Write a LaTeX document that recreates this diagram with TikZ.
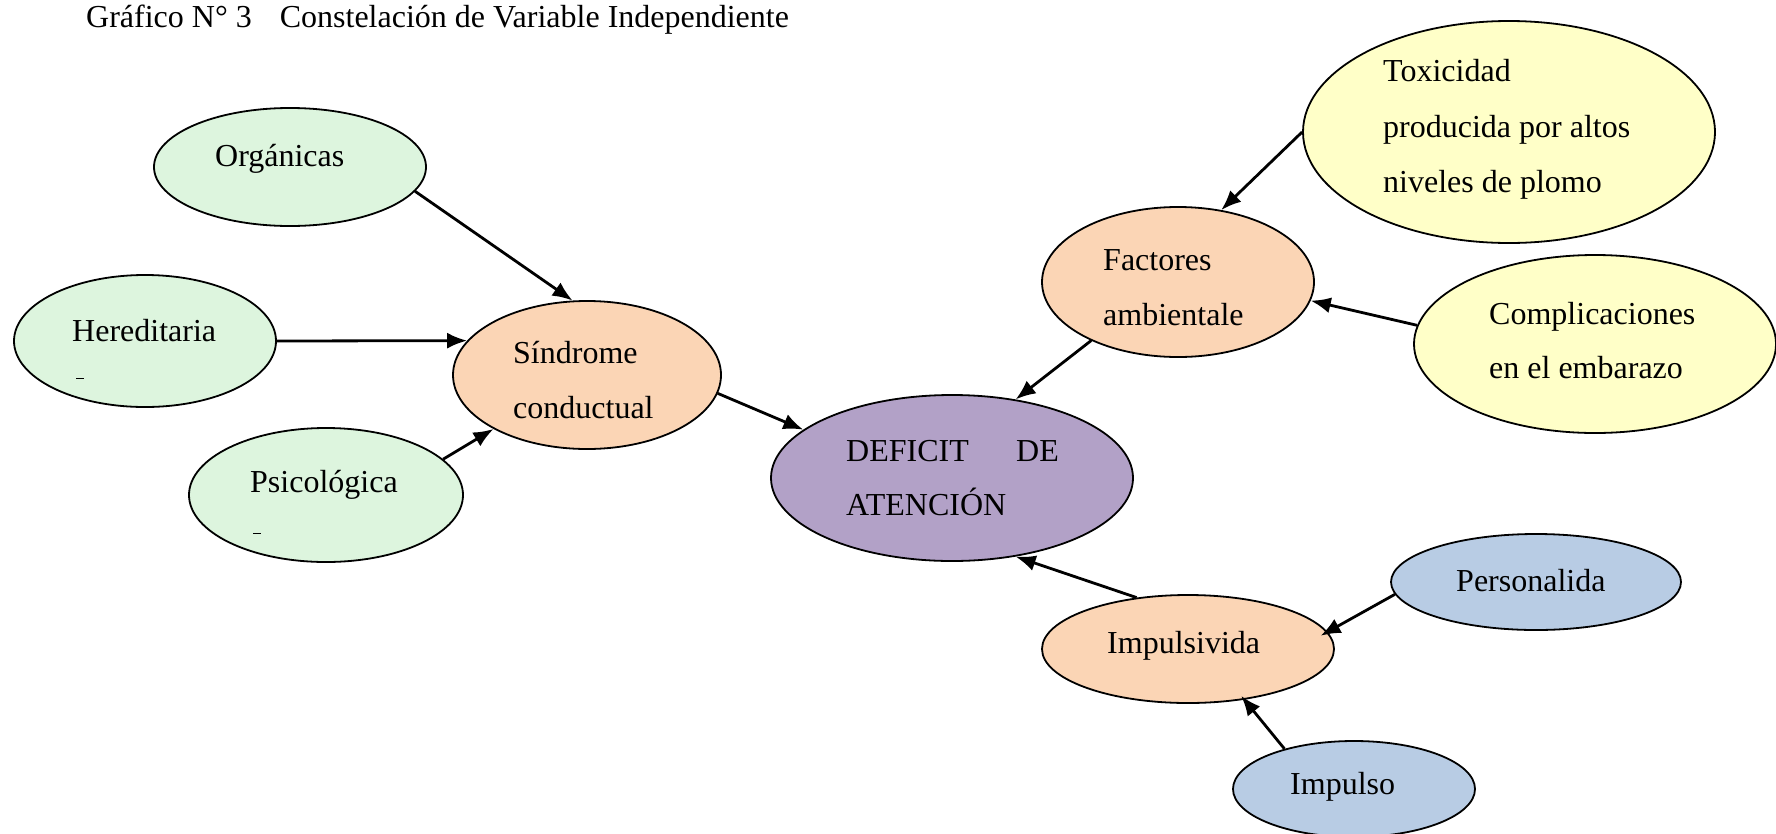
\documentclass[tikz,border=0pt]{standalone}
\usepackage{fontspec}
\setmainfont{Liberation Serif}
\usetikzlibrary{shapes.geometric,arrows.meta}
\definecolor{cgreen}{RGB}{221,245,222}
\definecolor{cpeach}{RGB}{251,213,181}
\definecolor{cpurple}{RGB}{178,161,199}
\definecolor{cyellow}{RGB}{255,255,200}
\definecolor{cblue}{RGB}{184,204,228}
\begin{document}
\begin{tikzpicture}[x=1pt,y=-1pt,
  bub/.style={ellipse, draw=black, line width=1.8pt, inner sep=0},
  txt/.style={inner sep=0, font=\fontsize{32}{38}\selectfont, anchor=base west},
  arr/.style={line width=2.8pt, -{Latex[length=20pt,width=16pt]}}]
\useasboundingbox (0,0) rectangle (1776,833);
% title
\node[txt] (title) at (86,27) {Gráfico N° 3\hspace{28pt}Constelación de Variable Independiente};
% ellipses
\node[bub, fill=cgreen, minimum width=272pt, minimum height=118pt] (org) at (290,167) {};
\node[bub, fill=cgreen, minimum width=262pt, minimum height=132pt] (her) at (145,341) {};
\node[bub, fill=cgreen, minimum width=274pt, minimum height=134pt] (psi) at (326,495) {};
\node[bub, fill=cpeach, minimum width=268pt, minimum height=148pt] (sin) at (587,375) {};
\node[bub, fill=cpurple, minimum width=362pt, minimum height=166pt] (def) at (952,478) {};
\node[bub, fill=cpeach, minimum width=272pt, minimum height=150pt] (fac) at (1178,282) {};
\node[bub, fill=cyellow, minimum width=412pt, minimum height=222pt] (tox) at (1509,132) {};
\node[bub, fill=cyellow, minimum width=362pt, minimum height=178pt] (com) at (1595,344) {};
\node[bub, fill=cpeach, minimum width=292pt, minimum height=108pt] (imp) at (1188,649) {};
\node[bub, fill=cblue, minimum width=290pt, minimum height=96pt] (per) at (1536,582) {};
\node[bub, fill=cblue, minimum width=242pt, minimum height=96pt] (ipo) at (1354,789) {};
% texts
\node[txt] (torg) at (215,166) {Orgánicas};
\node[txt] (ther) at (72,341) {Hereditaria};
\node[txt] (tpsi) at (250,492) {Psicológica};
\node[txt] (tsin1) at (513,363) {Síndrome};
\node[txt] (tsin2) at (513,418) {conductual};
\node[txt] (tdef1) at (846,461) {DEFICIT};
\node[txt, anchor=base east] (tdef2) at (1059,461) {DE};
\node[txt] (tdef3) at (846,515) {ATENCIÓN};
\node[txt] (tfac1) at (1103,270) {Factores};
\node[txt] (tfac2) at (1103,325) {ambientale};
\node[txt] (ttox1) at (1383,81) {Toxicidad};
\node[txt] (ttox2) at (1383,137) {producida por altos};
\node[txt] (ttox3) at (1383,192) {niveles de plomo};
\node[txt] (tcom1) at (1489,324) {Complicaciones};
\node[txt] (tcom2) at (1489,378) {en el embarazo};
\node[txt] (timp) at (1107,653) {Impulsivida};
\node[txt] (tper) at (1456,591) {Personalida};
\node[txt] (tipo) at (1290,794) {Impulso};
% small marks
\draw[line width=1pt] (76,378) -- (84,378);
\draw[line width=1pt] (253,533) -- (261,533);
% arrows
\draw[arr] (org.-11) -- (sin.101.5);
\draw[arr] (her.0) -- (sin.164.5);
\draw[arr] (psi.17.8) -- (sin.210);
\draw[arr] (sin.-8.6) -- (def.162.9);
\draw[arr] (fac.214.9) -- (def.51.1);
\draw[arr] (tox.180) -- (fac.59.6);
\draw[arr] (com.174.6) -- (fac.-8);
\draw[arr] (imp.135.5) -- (def.-51.1);
\draw[arr, shorten >=-8pt] (per.185.5) -- (imp.7.5);
\draw[arr, shorten >=-5pt] (ipo.150.7) -- (imp.-42.1);
\end{tikzpicture}
\end{document}
